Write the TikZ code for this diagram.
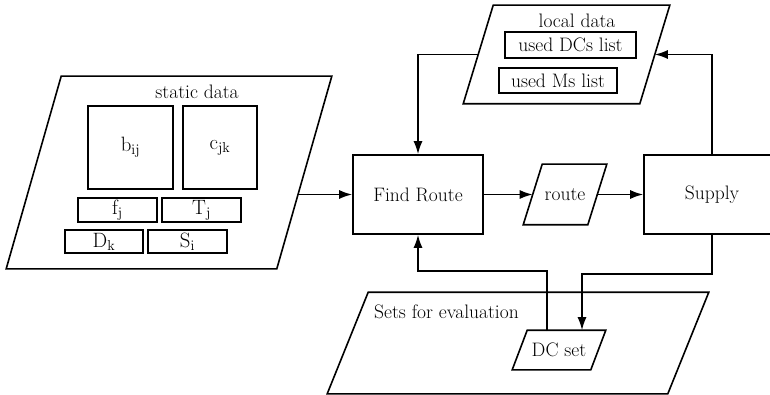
\documentclass[tikz,border=0pt]{standalone}
\usetikzlibrary{arrows.meta}
\tikzset{>={Latex[length=13pt,width=9pt]},
  box/.style={draw,inner sep=0pt},
  slot/.style={inner sep=0pt}}
% parallelogram round a node: name, half of the slant
\newcommand\paral[2]{\draw ([xshift=-#2]#1.south west) -- ([xshift=#2]#1.north west)
  -- ([xshift=#2]#1.north east) -- ([xshift=-#2]#1.south east) -- cycle;}

\begin{document}
\begin{tikzpicture}[x=1pt,y=-1pt,line width=1.6pt,line cap=round,
    font=\fontsize{19.5}{23}\selectfont]
  \clip (0,0) rectangle (770,395);

  % static data
  \node [slot,minimum width=269pt,minimum height=191pt] (sd) at (169,172.5) {};
  \paral{sd}{27.5pt}
  \node (sdlabel) at (197,92) {static data};
  \node [box,minimum width=85pt,minimum height=83pt] (b) at (130.5,147.5) {$\mathrm{b}_{\mathrm{ij}}$};
  \node [box,minimum width=74pt,minimum height=83pt] (c) at (220,147.5) {$\mathrm{c}_{\mathrm{jk}}$};
  \node [box,minimum width=79pt,minimum height=24pt] (f) at (117.5,210) {$\mathrm{f}_{\mathrm{j}}$};
  \node [box,minimum width=79pt,minimum height=24pt] (T) at (201.5,210) {$\mathrm{T}_{\mathrm{j}}$};
  \node [box,minimum width=78pt,minimum height=23pt] (D) at (104,241.5) {$\mathrm{D}_{\mathrm{k}}$};
  \node [box,minimum width=79pt,minimum height=23pt] (S) at (187.5,241.5) {$\mathrm{S}_{\mathrm{i}}$};

  \node [box,minimum width=130pt,minimum height=79pt] (fr) at (418,194.5) {Find Route};
  \node [slot,minimum width=63pt,minimum height=59pt] (route) at (565,194.5) {route};
  \paral{route}{9.5pt}
  \node [box,minimum width=136pt,minimum height=79pt] (sup) at (712,194.5) {Supply};

  % local data
  \node [slot,minimum width=175pt,minimum height=97pt] (ld) at (566.5,54.5) {};
  \paral{ld}{15pt}
  \node (ldlabel) at (577,21) {local data};
  \node [box,minimum width=131pt,minimum height=26pt] (dcl) at (570.5,45) {used DCs list};
  \node [box,minimum width=118pt,minimum height=25pt] (msl) at (558,80.5) {used Ms list};

  % sets for evaluation
  \node [slot,minimum width=339pt,minimum height=100pt] (ev) at (518,343) {};
  \paral{ev}{20.5pt}
  \node [anchor=west] (evlabel) at (370,312) {Sets for evaluation};
  \node [slot,minimum width=77pt,minimum height=38pt] (dc) at (559,350) {DC set};
  \paral{dc}{7.5pt}

  \draw [->,shorten <=-6pt] (fr.west -| sd.east) -- (fr.west);
  \draw [->] (fr.east) -- (route.west);
  \draw [->] (route.east) -- (sup.west);
  \draw [->] (sup.north) |- (ld.east);
  \draw [->] (ld.west) -| (fr.north);
  \draw [->] ([xshift=-12pt]dc.north) -- ++(0,-59) -| (fr.south);
  \draw [->] (sup.south) -- ++(0,39) -| ([xshift=23pt]dc.north);

\end{tikzpicture}
\end{document}
